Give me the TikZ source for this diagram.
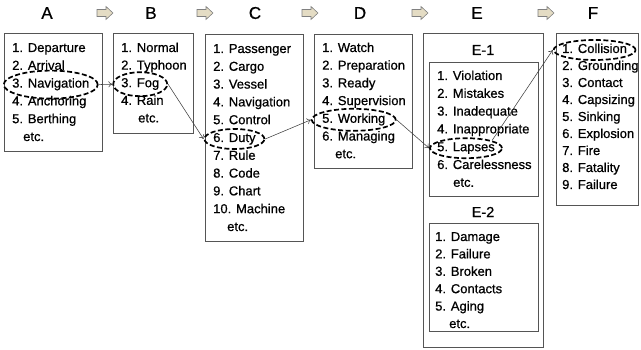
\documentclass[tikz,border=0pt]{standalone}
\usepackage{fontspec}
\setmainfont{Liberation Sans}[FakeBold=0.7]
\usetikzlibrary{shapes.geometric,arrows.meta}
\definecolor{framegray}{RGB}{85,85,85}
\definecolor{arrowtan}{RGB}{228,220,196}
\begin{document}
\begin{tikzpicture}[x=1pt, y=-1pt, every node/.style = {inner sep=0pt, font=\fontsize{13}{15}\selectfont}]
	\tikzset{ box/.style = {draw=framegray, line width=0.8pt, anchor=north west},
		item/.style = {anchor=west, text height=9pt, text depth=3pt},
		head/.style = {font=\fontsize{17}{19}\selectfont},
		subhead/.style = {font=\fontsize{14.5}{16}\selectfont},
		flow/.style = {draw=gray, fill=arrowtan, line width=0.6pt, line join=miter},
		hl/.style = {ellipse, draw, line width=1.7pt, dash pattern=on 5pt off 2.5pt},
		link/.style = {draw=black!75, line width=0.55pt, -{To[length=4pt,width=6pt]}} }
	\useasboundingbox (0,0) rectangle (641,350);
	% stage titles and flow arrows
	\node [head] (tA) at (47,13) {A};
	\node [head] (tB) at (151,13) {B};
	\node [head] (tC) at (255,13) {C};
	\node [head] (tD) at (360,13) {D};
	\node [head] (tE) at (477,13) {E};
	\node [head] (tF) at (593,13) {F};
	\foreach \x in {105,205,310,420,546}
		\draw [flow] (\x-8,9.5) -- (\x+1,9.5) -- (\x+1,6.5) -- (\x+8,13) -- (\x+1,19.5) -- (\x+1,16.5) -- (\x-8,16.5) -- cycle;
	% frames
	\node [box, minimum width=98pt, minimum height=118pt] (boxA) at (4,33) {};
	\node [box, minimum width=80pt, minimum height=100pt] (boxB) at (113,33) {};
	\node [box, minimum width=98pt, minimum height=207pt] (boxC) at (205,34) {};
	\node [box, minimum width=98pt, minimum height=134pt] (boxD) at (314,34) {};
	\node [box, minimum width=120pt, minimum height=314pt] (boxE) at (423,33) {};
	\node [box, minimum width=109pt, minimum height=134pt] (boxE1) at (429,62) {};
	\node [box, minimum width=109pt, minimum height=108pt] (boxE2) at (429,223) {};
	\node [box, minimum width=82pt, minimum height=172pt] (boxF) at (556,33) {};
	\node [subhead] (tE1) at (483,50) {E-1};
	\node [subhead] (tE2) at (483,212) {E-2};
	% lists
	\foreach \t [count=\i] in {Departure,Arrival,Navigation,Anchoring,Berthing}
		\node [item] (A-\i) at (12,49+17.8*\i-17.8) {\i. \t};
	\node [item] (A-etc) at (23,49+17.8*5) {etc.};
	\foreach \t [count=\i] in {Normal,Typhoon,Fog,Rain}
		\node [item] (B-\i) at (121,49+17.6*\i-17.6) {\i. \t};
	\node [item] (B-etc) at (138,49+17.6*4) {etc.};
	\foreach \t [count=\i] in {Passenger,Cargo,Vessel,Navigation,Control,Duty,Rule,Code,Chart,Machine}
		\node [item] (C-\i) at (213,50+17.8*\i-17.8) {\i. \t};
	\node [item] (C-etc) at (227,50+17.8*10) {etc.};
	\foreach \t [count=\i] in {Watch,Preparation,Ready,Supervision,Working,Managing}
		\node [item] (D-\i) at (322,49+17.7*\i-17.7) {\i. \t};
	\node [item] (D-etc) at (335,49+17.7*6) {etc.};
	\foreach \t [count=\i] in {Violation,Mistakes,Inadequate,Inappropriate,Lapses,Carelessness}
		\node [item] (E1-\i) at (437,77+17.8*\i-17.8) {\i. \t};
	\node [item] (E1-etc) at (453,77+17.8*6) {etc.};
	\foreach \t [count=\i] in {Damage,Failure,Broken,Contacts,Aging}
		\node [item] (E2-\i) at (435,238+17.4*\i-17.4) {\i. \t};
	\node [item] (E2-etc) at (449,238+17.4*5) {etc.};
	\foreach \t [count=\i] in {Collision,Grounding,Contact,Capsizing,Sinking,Explosion,Fire,Fatality,Failure}
		\node [item] (F-\i) at (562,50+17*\i-17) {\i. \t};
	% marked items and their chain
	\node [hl, minimum width=94pt, minimum height=28pt] (hlA) at (A-3) {};
	\node [hl, minimum width=54pt, minimum height=24pt] (hlB) at (B-3) {};
	\node [hl, minimum width=60pt, minimum height=20pt] (hlC) at (C-6) {};
	\node [hl, minimum width=84pt, minimum height=22pt] (hlD) at (D-5) {};
	\node [hl, minimum width=72pt, minimum height=20pt] (hlE) at (E1-5) {};
	\node [hl, minimum width=82pt, minimum height=20pt] (hlF) at (F-1) {};
	\draw [link] (hlA.east) -- (hlB.west);
	\draw [link] (hlB.east) -- (hlC.west);
	\draw [link] (hlC.east) -- (hlD.west);
	\draw [link] (hlD.east) -- (hlE.west);
	\draw [link] (hlE.north east) -- (hlF.west);
\end{tikzpicture}
\end{document}
